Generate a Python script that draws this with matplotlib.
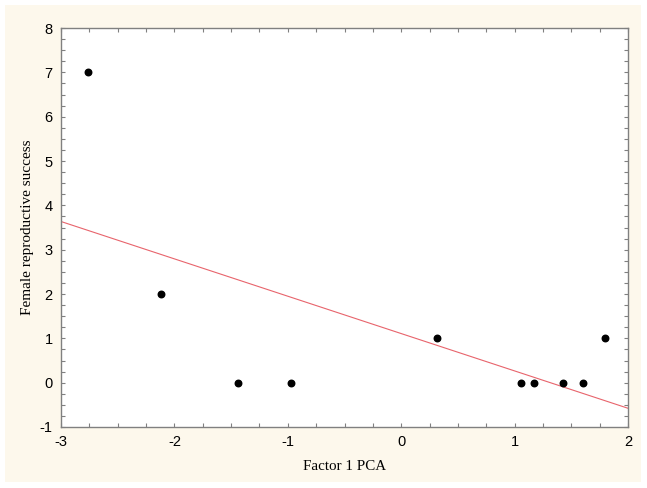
import matplotlib
matplotlib.use("Agg")
import matplotlib.pyplot as plt
from matplotlib.patches import Rectangle
from matplotlib.ticker import MultipleLocator
import numpy as np

plt.rcParams["axes.unicode_minus"] = False

# Factor 1 PCA scores vs female reproductive success
factor1 = [-2.76, -2.12, -1.44, -0.97, 0.32, 1.06, 1.17, 1.43, 1.60, 1.80]
success = [7, 2, 0, 0, 1, 0, 0, 0, 0, 1]

fig = plt.figure(figsize=(6.47, 4.88), dpi=100)
fig.patch.set_facecolor("white")
# cream panel behind the plot
fig.add_artist(Rectangle((5 / 647, 6 / 488), 636 / 647, 477 / 488,
                         transform=fig.transFigure, facecolor="#fdf8ec",
                         edgecolor="none", zorder=-1))

ax = fig.add_axes([61 / 647, 1 - 427 / 488, 567 / 647, 399 / 488])
ax.set_zorder(1)
ax.set_facecolor("white")

ax.scatter(factor1, success, s=22, color="black", zorder=3)

slope, intercept = np.polyfit(factor1, success, 1)
xl = np.array([-3, 2])
ax.plot(xl, slope * xl + intercept, color="#e8646c", linewidth=0.8)

ax.set_xlim(-3, 2)
ax.set_ylim(-1, 8)
ax.xaxis.set_major_locator(MultipleLocator(1))
ax.xaxis.set_minor_locator(MultipleLocator(0.25))
ax.yaxis.set_major_locator(MultipleLocator(1))
ax.yaxis.set_minor_locator(MultipleLocator(0.25))
ax.tick_params(which="both", direction="in", top=True, right=True,
               color="#808080", length=3, width=0.8)
ax.tick_params(which="major", labelsize=10.5, pad=6)
for lab in ax.get_xticklabels() + ax.get_yticklabels():
    lab.set_family("Liberation Sans")
for s in ax.spines.values():
    s.set_color("#808080")
    s.set_linewidth(1)

ax.set_xlabel("Factor 1 PCA", family="Liberation Serif", fontsize=10.8, labelpad=8)
ax.set_ylabel("Female reproductive success", family="Liberation Serif", fontsize=11, labelpad=4)

fig.savefig("out.png", dpi=100)
